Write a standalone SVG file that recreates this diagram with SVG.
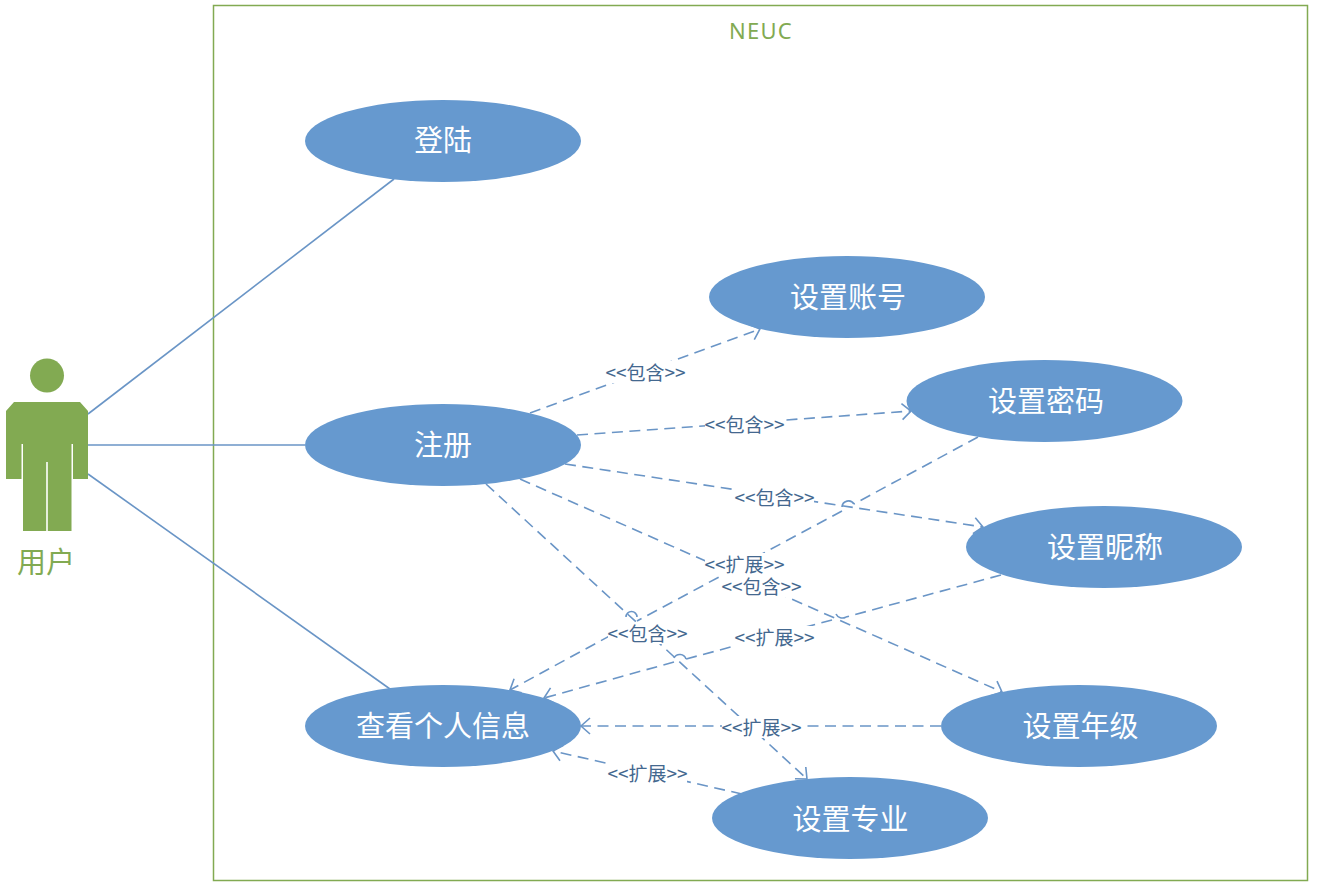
<svg xmlns="http://www.w3.org/2000/svg" width="1324" height="888" viewBox="0 0 1324 888">
<style>
text{font-family:"Noto Sans CJK SC","Noto Sans",sans-serif;text-anchor:middle;dominant-baseline:central}
.e{fill:#6699cf}
.n{font-size:29px;fill:#fff}
.g{fill:#82aa52}
.s{fill:none;stroke:#6a95c6;stroke-width:1.6}
.d{stroke-dasharray:11 6.500}
.l{font-size:19px;fill:#44688f}
.b{fill:#fff}
</style>
<defs>
<marker id="a" markerUnits="userSpaceOnUse" markerWidth="16" markerHeight="20" refX="12" refY="9" orient="auto">
<path d="M3 1 L12 9 L3 17" fill="none" stroke="#6a95c6" stroke-width="1.6"/>
</marker>
</defs>
<rect x="213.500" y="5.500" width="1094" height="875" fill="none" stroke="#82aa52" stroke-width="1.500"/>
<text x="761" y="30" font-size="22" class="g" style="font-family:'Noto Sans',sans-serif" letter-spacing="1.300">NEUC</text>
<g id="connectors">
<path class="s" d="M88 414 394 179"/>
<path class="s" d="M88 445H305"/>
<path class="s" d="M88 474 390 689"/>
<path class="s d" marker-end="url(#a)" d="M530 413 760 329"/>
<path class="s d" marker-end="url(#a)" d="M577 435 911 411"/>
<path class="s d" marker-end="url(#a)" d="M565 464 983 527"/>
<path class="s d" marker-end="url(#a)" d="M520 479 1002 692"/>
<path class="s d" marker-end="url(#a)" d="M486 484 807 779"/>
<path class="s d" d="M978 437 854 504"/>
<path class="s d" d="M842 511 637 621"/>
<path class="s d" marker-end="url(#a)" d="M626 627 510 690"/>
<path class="s d" d="M1001 575 846 617"/>
<path class="s d" d="M832 620 686 659"/>
<path class="s d" marker-end="url(#a)" d="M674 662 544 698"/>
<path class="s" d="M854 504A6.500 6.500 0 0 0 842 507"/>
<path class="s" d="M637 617A5 5 0 0 0 626 617"/>
<path class="s" d="M846 617A7 7 0 0 1 836 614"/>
<path class="s" d="M686 659A6.500 6.500 0 0 0 674 658"/>
<path class="s d" marker-end="url(#a)" d="M941 726H581"/>
<path class="s d" marker-end="url(#a)" d="M742 794 553 751"/>
</g>
<g id="labels">
<rect class="b" x="606" y="361" width="79" height="22"/><text class="l" x="645.500" y="371">&lt;&lt;包含&gt;&gt;</text>
<rect class="b" x="705" y="413" width="79" height="22"/><text class="l" x="744.500" y="423">&lt;&lt;包含&gt;&gt;</text>
<rect class="b" x="735" y="486" width="79" height="22"/><text class="l" x="774.500" y="496">&lt;&lt;包含&gt;&gt;</text>
<rect class="b" x="705" y="553" width="79" height="22"/><text class="l" x="744.500" y="563">&lt;&lt;扩展&gt;&gt;</text>
<rect class="b" x="722" y="575" width="79" height="22"/><text class="l" x="761.500" y="585">&lt;&lt;包含&gt;&gt;</text>
<rect class="b" x="608" y="622" width="79" height="22"/><text class="l" x="647.500" y="632">&lt;&lt;包含&gt;&gt;</text>
<rect class="b" x="735" y="626" width="79" height="22"/><text class="l" x="774.500" y="636">&lt;&lt;扩展&gt;&gt;</text>
<rect class="b" x="722" y="716" width="79" height="22"/><text class="l" x="761.500" y="726">&lt;&lt;扩展&gt;&gt;</text>
<rect class="b" x="608" y="762" width="79" height="22"/><text class="l" x="647.500" y="772">&lt;&lt;扩展&gt;&gt;</text>
</g>
<g id="user">
<circle class="g" cx="47" cy="375.500" r="17"/>
<path class="g" d="M6 411 14 402H80L88 411V479H73V444H71.500V531H47.800V462H46.200V531H23V444H21.500V479H6Z"/>
<text x="46" y="560" font-size="29" class="g">用户</text>
</g>
<g id="login"><ellipse class="e" cx="443" cy="141" rx="138" ry="41"/><text class="n" x="443" y="138">登陆</text></g>
<g id="register"><ellipse class="e" cx="443" cy="445" rx="138" ry="41"/><text class="n" x="443" y="443">注册</text></g>
<g id="view"><ellipse class="e" cx="443" cy="726" rx="138" ry="41"/><text class="n" x="443" y="724">查看个人信息</text></g>
<g id="account"><ellipse class="e" cx="847" cy="297" rx="138" ry="41"/><text class="n" x="848" y="295">设置账号</text></g>
<g id="password"><ellipse class="e" cx="1044.500" cy="401" rx="138" ry="41"/><text class="n" x="1046" y="399">设置密码</text></g>
<g id="nickname"><ellipse class="e" cx="1104" cy="547" rx="138" ry="41"/><text class="n" x="1105" y="545">设置昵称</text></g>
<g id="grade"><ellipse class="e" cx="1079" cy="726" rx="138" ry="41"/><text class="n" x="1080.500" y="724">设置年级</text></g>
<g id="major"><ellipse class="e" cx="850" cy="818" rx="138" ry="41"/><text class="n" x="850.500" y="817">设置专业</text></g>
</svg>
